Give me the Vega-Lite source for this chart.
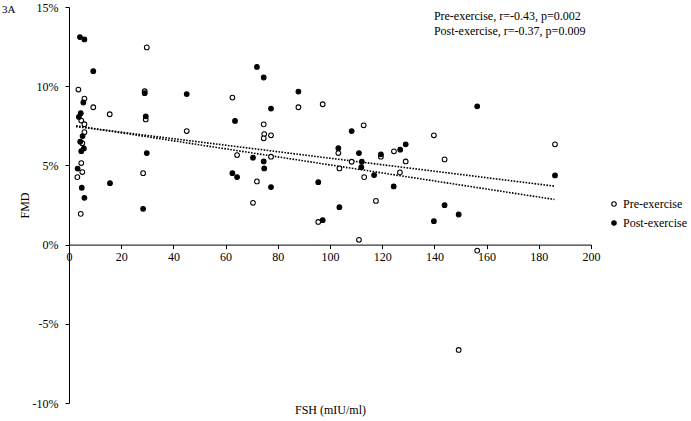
{
  "$schema": "https://vega.github.io/schema/vega-lite/v6.json",
  "width": 522,
  "height": 396,
  "autosize": "none",
  "padding": {"left": 69, "top": 7, "right": 100, "bottom": 18},
  "background": "white",
  "config": {
    "view": {"stroke": null},
    "font": "Liberation Serif",
    "axis": {"labelFont": "Liberation Serif", "titleFont": "Liberation Serif", "labelFontSize": 12, "titleFontSize": 12, "titleFontWeight": "normal", "labelColor": "black", "titleColor": "black", "domainColor": "black", "tickColor": "black", "grid": false},
    "legend": {"labelFont": "Liberation Serif", "labelFontSize": 12, "labelColor": "black"}
  },
  "datasets": {
    "points": [
      {"series": "Pre-exercise", "fsh": 3.6, "fmd": 9.79},
      {"series": "Pre-exercise", "fsh": 5.9, "fmd": 9.22},
      {"series": "Pre-exercise", "fsh": 9.3, "fmd": 8.67},
      {"series": "Pre-exercise", "fsh": 15.6, "fmd": 8.23},
      {"series": "Pre-exercise", "fsh": 4.7, "fmd": 7.83},
      {"series": "Pre-exercise", "fsh": 5.9, "fmd": 7.6},
      {"series": "Pre-exercise", "fsh": 5.9, "fmd": 7.1},
      {"series": "Pre-exercise", "fsh": 5.1, "fmd": 6.4},
      {"series": "Pre-exercise", "fsh": 4.7, "fmd": 5.15},
      {"series": "Pre-exercise", "fsh": 5.1, "fmd": 4.58},
      {"series": "Pre-exercise", "fsh": 3.2, "fmd": 4.26},
      {"series": "Pre-exercise", "fsh": 4.5, "fmd": 1.94},
      {"series": "Pre-exercise", "fsh": 29.8, "fmd": 12.45},
      {"series": "Pre-exercise", "fsh": 29.0, "fmd": 9.68},
      {"series": "Pre-exercise", "fsh": 29.4, "fmd": 7.9},
      {"series": "Pre-exercise", "fsh": 28.4, "fmd": 4.51},
      {"series": "Pre-exercise", "fsh": 45.1, "fmd": 7.17},
      {"series": "Pre-exercise", "fsh": 62.6, "fmd": 9.28},
      {"series": "Pre-exercise", "fsh": 87.9, "fmd": 8.67},
      {"series": "Pre-exercise", "fsh": 74.6, "fmd": 7.59},
      {"series": "Pre-exercise", "fsh": 74.8, "fmd": 6.98},
      {"series": "Pre-exercise", "fsh": 74.6, "fmd": 6.71},
      {"series": "Pre-exercise", "fsh": 77.4, "fmd": 6.9},
      {"series": "Pre-exercise", "fsh": 64.4, "fmd": 5.65},
      {"series": "Pre-exercise", "fsh": 77.4, "fmd": 5.55},
      {"series": "Pre-exercise", "fsh": 72.0, "fmd": 3.99},
      {"series": "Pre-exercise", "fsh": 70.5, "fmd": 2.64},
      {"series": "Pre-exercise", "fsh": 97.2, "fmd": 8.86},
      {"series": "Pre-exercise", "fsh": 112.9, "fmd": 7.53},
      {"series": "Pre-exercise", "fsh": 103.2, "fmd": 5.78},
      {"series": "Pre-exercise", "fsh": 108.3, "fmd": 5.23},
      {"series": "Pre-exercise", "fsh": 119.5, "fmd": 5.55},
      {"series": "Pre-exercise", "fsh": 124.5, "fmd": 5.89},
      {"series": "Pre-exercise", "fsh": 129.0, "fmd": 5.25},
      {"series": "Pre-exercise", "fsh": 103.6, "fmd": 4.81},
      {"series": "Pre-exercise", "fsh": 113.1, "fmd": 4.26},
      {"series": "Pre-exercise", "fsh": 126.8, "fmd": 4.56},
      {"series": "Pre-exercise", "fsh": 117.6, "fmd": 2.76},
      {"series": "Pre-exercise", "fsh": 95.5, "fmd": 1.43},
      {"series": "Pre-exercise", "fsh": 111.1, "fmd": 0.3},
      {"series": "Pre-exercise", "fsh": 139.8, "fmd": 6.9},
      {"series": "Pre-exercise", "fsh": 143.9, "fmd": 5.38},
      {"series": "Pre-exercise", "fsh": 186.2, "fmd": 6.33},
      {"series": "Pre-exercise", "fsh": 156.4, "fmd": -0.38},
      {"series": "Pre-exercise", "fsh": 149.3, "fmd": -6.65},
      {"series": "Post-exercise", "fsh": 4.2, "fmd": 13.1},
      {"series": "Post-exercise", "fsh": 5.9, "fmd": 12.95},
      {"series": "Post-exercise", "fsh": 9.3, "fmd": 10.95},
      {"series": "Post-exercise", "fsh": 5.5, "fmd": 8.97},
      {"series": "Post-exercise", "fsh": 4.5, "fmd": 8.3},
      {"series": "Post-exercise", "fsh": 3.8, "fmd": 8.06},
      {"series": "Post-exercise", "fsh": 29.0, "fmd": 9.56},
      {"series": "Post-exercise", "fsh": 29.4, "fmd": 8.1},
      {"series": "Post-exercise", "fsh": 5.2, "fmd": 6.85},
      {"series": "Post-exercise", "fsh": 4.3, "fmd": 6.5},
      {"series": "Post-exercise", "fsh": 5.7, "fmd": 6.07},
      {"series": "Post-exercise", "fsh": 4.7, "fmd": 5.9},
      {"series": "Post-exercise", "fsh": 29.8, "fmd": 5.78},
      {"series": "Post-exercise", "fsh": 3.3, "fmd": 4.8},
      {"series": "Post-exercise", "fsh": 4.9, "fmd": 3.59},
      {"series": "Post-exercise", "fsh": 15.7, "fmd": 3.88},
      {"series": "Post-exercise", "fsh": 5.9, "fmd": 2.95},
      {"series": "Post-exercise", "fsh": 28.4, "fmd": 2.26},
      {"series": "Post-exercise", "fsh": 45.1, "fmd": 9.5},
      {"series": "Post-exercise", "fsh": 72.0, "fmd": 11.22},
      {"series": "Post-exercise", "fsh": 74.6, "fmd": 10.55},
      {"series": "Post-exercise", "fsh": 77.4, "fmd": 8.59},
      {"series": "Post-exercise", "fsh": 87.9, "fmd": 9.66},
      {"series": "Post-exercise", "fsh": 63.6, "fmd": 7.81},
      {"series": "Post-exercise", "fsh": 70.5, "fmd": 5.49},
      {"series": "Post-exercise", "fsh": 74.6, "fmd": 5.25},
      {"series": "Post-exercise", "fsh": 74.8, "fmd": 4.81},
      {"series": "Post-exercise", "fsh": 62.6, "fmd": 4.51},
      {"series": "Post-exercise", "fsh": 64.4, "fmd": 4.26},
      {"series": "Post-exercise", "fsh": 77.4, "fmd": 3.63},
      {"series": "Post-exercise", "fsh": 108.3, "fmd": 7.17},
      {"series": "Post-exercise", "fsh": 103.2, "fmd": 6.09},
      {"series": "Post-exercise", "fsh": 111.1, "fmd": 5.78},
      {"series": "Post-exercise", "fsh": 119.5, "fmd": 5.7},
      {"series": "Post-exercise", "fsh": 112.2, "fmd": 5.23},
      {"series": "Post-exercise", "fsh": 112.0, "fmd": 4.89},
      {"series": "Post-exercise", "fsh": 116.9, "fmd": 4.39},
      {"series": "Post-exercise", "fsh": 126.9, "fmd": 5.99},
      {"series": "Post-exercise", "fsh": 129.0, "fmd": 6.33},
      {"series": "Post-exercise", "fsh": 95.5, "fmd": 3.94},
      {"series": "Post-exercise", "fsh": 124.4, "fmd": 3.67},
      {"series": "Post-exercise", "fsh": 103.6, "fmd": 2.36},
      {"series": "Post-exercise", "fsh": 97.2, "fmd": 1.54},
      {"series": "Post-exercise", "fsh": 156.4, "fmd": 8.73},
      {"series": "Post-exercise", "fsh": 186.2, "fmd": 4.37},
      {"series": "Post-exercise", "fsh": 143.9, "fmd": 2.49},
      {"series": "Post-exercise", "fsh": 149.3, "fmd": 1.9},
      {"series": "Post-exercise", "fsh": 139.8, "fmd": 1.48}
    ],
    "trends": [
      {"series": "Pre-exercise", "fsh": 2.7, "fmd": 7.5},
      {"series": "Pre-exercise", "fsh": 186.0, "fmd": 2.85},
      {"series": "Post-exercise", "fsh": 2.7, "fmd": 7.45},
      {"series": "Post-exercise", "fsh": 186.0, "fmd": 3.69}
    ],
    "notes": [
      {"label": "Pre-exercise, r=-0.43, p=0.002", "fsh": 139.8, "fmd": 14.17},
      {"label": "Post-exercise, r=-0.37, p=0.009", "fsh": 139.8, "fmd": 13.26}
    ],
    "panel": [
      {"label": "3A", "fsh": -25.7, "fmd": 14.64}
    ]
  },
  "layer": [
    {
      "data": {"name": "trends"},
      "mark": {"type": "line", "color": "black", "strokeWidth": 1.6, "strokeDash": [1.6, 1.4], "strokeCap": "butt"},
      "encoding": {
        "x": {"field": "fsh", "type": "quantitative", "scale": {"domain": [0, 200], "nice": false}},
        "y": {"field": "fmd", "type": "quantitative", "scale": {"domain": [-10, 15], "nice": false}},
        "detail": {"field": "series"}
      }
    },
    {
      "data": {"name": "points"},
      "mark": {"type": "point", "shape": "circle", "filled": true, "stroke": "black", "strokeWidth": 1.1, "size": 22, "opacity": 1},
      "encoding": {
        "x": {
          "field": "fsh", "type": "quantitative",
          "scale": {"domain": [0, 200], "nice": false},
          "axis": {"title": "FSH (mIU/ml)", "values": [0, 20, 40, 60, 80, 100, 120, 140, 160, 180, 200], "offset": -158.4, "tickSize": 4, "labelPadding": 3, "titleY": 169, "titleBaseline": "alphabetic", "labelFlush": false}
        },
        "y": {
          "field": "fmd", "type": "quantitative",
          "scale": {"domain": [-10, 15], "nice": false},
          "axis": {"title": "FMD", "values": [-10, -5, 0, 5, 10, 15], "labelExpr": "datum.value + '%'", "tickSize": 4, "labelPadding": 7, "titlePadding": 1}
        },
        "fill": {
          "field": "series", "type": "nominal",
          "scale": {"domain": ["Pre-exercise", "Post-exercise"], "range": ["white", "black"]},
          "legend": {"title": null, "orient": "none", "legendX": 539, "legendY": 191, "symbolType": "circle", "symbolSize": 20, "symbolStrokeColor": "black", "symbolStrokeWidth": 1.1, "labelOffset": 3, "rowPadding": 7, "padding": 0}
        }
      }
    },
    {
      "data": {"name": "notes"},
      "mark": {"type": "text", "align": "left", "baseline": "alphabetic", "fontSize": 12, "font": "Liberation Serif", "color": "black"},
      "encoding": {
        "x": {"field": "fsh", "type": "quantitative"},
        "y": {"field": "fmd", "type": "quantitative"},
        "text": {"field": "label"}
      }
    },
    {
      "data": {"name": "panel"},
      "mark": {"type": "text", "align": "left", "baseline": "alphabetic", "fontSize": 11, "font": "Liberation Serif", "color": "black"},
      "encoding": {
        "x": {"field": "fsh", "type": "quantitative"},
        "y": {"field": "fmd", "type": "quantitative"},
        "text": {"field": "label"}
      }
    }
  ]
}
